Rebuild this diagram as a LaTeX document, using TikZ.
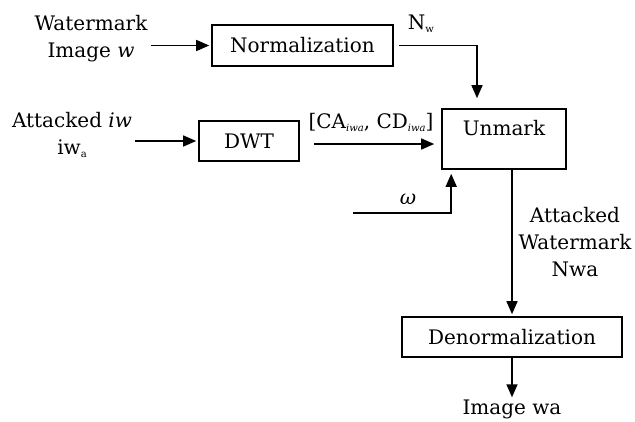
\documentclass[tikz,border=0pt]{standalone}
\usepackage{fontspec}
\setmainfont{DejaVu Serif}
\usetikzlibrary{arrows.meta}
% small lowered index used in the signal names
\newcommand{\lowsub}[1]{\raisebox{-3pt}{\fontsize{10}{10}\selectfont #1}}
\begin{document}
\begin{tikzpicture}[x=1pt,y=-1pt,
  font=\fontsize{20}{27}\selectfont,
  block/.style={draw, line width=1.6pt, inner sep=0pt, minimum height=41pt},
  txt/.style={inner sep=0pt, align=center},
  flow/.style={line width=1.5pt, -{Triangle[length=13pt,width=11pt]}}]
\useasboundingbox (0,0) rectangle (635,421);

% processing blocks
\node[block, minimum width=181pt] (norm) at (302.5,45.5) {Normalization};
\node[block, minimum width=100pt, minimum height=40pt] (dwt) at (249,141) {DWT};
\node[block, minimum width=124pt, minimum height=60pt,
      label={[txt, anchor=north, yshift=-12pt]north:Unmark}] (unmark) at (504,139) {};
\node[block, minimum width=220pt, minimum height=40pt] (denorm) at (512,337) {Denormalization};

% signal labels
\node[txt] (wimg) at (91,39) {Watermark\\Image \textit{w}};
\node[txt] (aiw) at (72,135) {Attacked \textit{iw}\\iw\lowsub{a}};
\node[txt] (nw) at (421,24) {N\lowsub{w}};
\node[txt] (coef) at (371,122) {[CA\lowsub{\itshape iwa}, CD\lowsub{\itshape iwa}]};
\node[txt] (omega) at (408,199) {\textit{ω}};
\node[txt] (awm) at (575,242) {Attacked\\Watermark\\Nwa};
\node[txt] (imgwa) at (512,409) {Image wa};

% connection points
\coordinate (cdin) at ([yshift=-3pt]dwt.east);
\coordinate (nwin) at ([xshift=-27pt]unmark.north);
\coordinate (win) at (353,213);
\coordinate (wup) at ([xshift=10pt]unmark.south west);

% connectors
\draw[flow, shorten <=3pt, shorten >=2pt] (wimg.east |- norm.west) -- (norm.west);
\draw[flow, shorten <=3pt, shorten >=2pt] (aiw.east |- dwt.west) -- (dwt.west);
\draw[flow, shorten <=14pt, shorten >=7pt] (cdin) -- (cdin -| unmark.west);
\draw[flow, shorten <=5pt, shorten >=10pt] (norm.east) -| (nwin);
\draw[flow, shorten >=4pt] (win) -| (wup);
\draw[flow, shorten >=2pt] (denorm.north |- unmark.south) -- (denorm.north);
\draw[flow, shorten >=2pt] (denorm.south) -- (denorm.south |- imgwa.north);
\end{tikzpicture}
\end{document}
